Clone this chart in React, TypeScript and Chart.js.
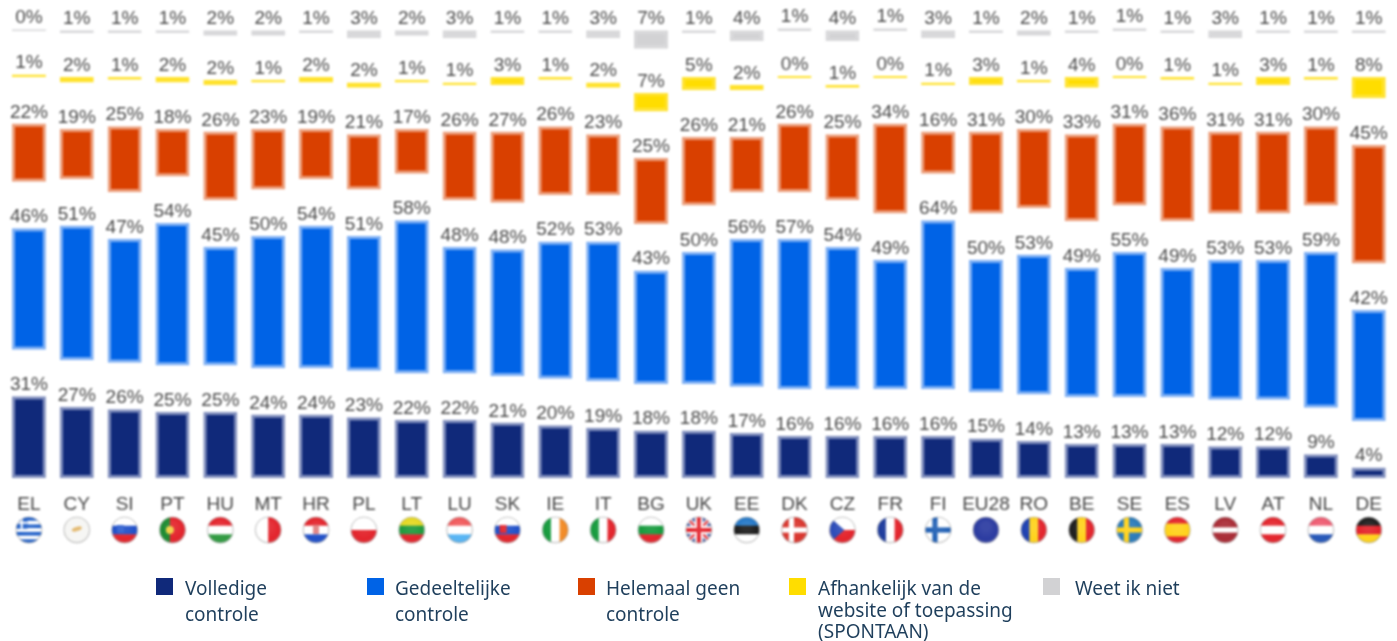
import React, { useEffect, useRef } from "react";
import { Chart, registerables } from "chart.js";

Chart.register(...registerables);

const categories = ["EL","CY","SI","PT","HU","MT","HR","PL","LT","LU","SK","IE","IT","BG","UK","EE","DK","CZ","FR","FI","EU28","RO","BE","SE","ES","LV","AT","NL","DE"];
const volledige = [31,27,26,25,25,24,24,23,22,22,21,20,19,18,18,17,16,16,16,16,15,14,13,13,13,12,12,9,4];
const gedeeltelijke = [46,51,47,54,45,50,54,51,58,48,48,52,53,43,50,56,57,54,49,64,50,53,49,55,49,53,53,59,42];
const geen = [22,19,25,18,26,23,19,21,17,26,27,26,23,25,26,21,26,25,34,16,31,30,33,31,36,31,31,30,45];
const afhankelijk = [1,2,1,2,2,1,2,2,1,1,3,1,2,7,5,2,0,1,0,1,3,1,4,0,1,1,3,1,8];
const weetNiet = [0,1,1,1,2,2,1,3,2,3,1,1,3,7,1,4,1,4,1,3,1,2,1,1,1,3,1,1,1];

const seriesNames = ["Volledige controle","Gedeeltelijke controle","Helemaal geen controle","Afhankelijk van de website of toepassing (SPONTAAN)","Weet ik niet"];
const seriesColors = ["#10297a","#0063e6","#d94000","#ffdd00","#d2d2d4"];
const seriesHalo = ["#8290be","#7fb0f4","#ec9f7c","#ffe22e","#d8d8da"];
const seriesValues = [volledige, gedeeltelijke, geen, afhankelijk, weetNiet];
// The reference separates the five panels with a constant blank band, in percent units.
const bandAfter = [17.6, 17.6, 17.6, 16.7];

const legendLines = [
  ["Volledige","controle"],
  ["Gedeeltelijke","controle"],
  ["Helemaal geen","controle"],
  ["Afhankelijk van de","website of toepassing","(SPONTAAN)"],
  ["Weet ik niet"],
];
const legendSwatchX = [156,367,578,789,1043];
const legendTextX = [185,395,606,818,1075];
const legendLineTops = [[576,602],[576,602],[576,602],[576,598,619],[576]];

type Flag = { h?: string[]; v?: string[]; w?: number[]; cross?: [string,string]; extra?: string };
const R="#e3232b", W="#ffffff", B="#1f4fb4", G="#159a3c", Y="#ffd21a", K="#1c1c1c";
const flags: Record<string, Flag> = {
  EL:{h:["#1f5fc8",W,"#1f5fc8",W,"#1f5fc8",W,"#1f5fc8"],extra:"gr"},
  CY:{h:["#f6f6f4"],extra:"cy"},
  SI:{h:[W,"#1f4fc8",R],extra:"crest"},
  PT:{v:["#1c8a30",R],w:[2,3],extra:"pt"},
  HU:{h:[R,W,"#2f9a40"]},
  MT:{v:[W,R]},
  HR:{h:[R,W,"#1f4fc8"],extra:"crest"},
  PL:{h:[W,R]},
  LT:{h:["#e6d820","#1f9a3c",R]},
  LU:{h:["#f0585a",W,"#55b4f4"]},
  SK:{h:[W,"#1f4fc8",R],extra:"crest"},
  IE:{v:[G,W,"#f28a24"]},
  IT:{v:[G,W,R]},
  BG:{h:[W,G,R]},
  UK:{h:["#2a3f8f"],extra:"uk"},
  EE:{h:["#2478c8",K,W]},
  DK:{h:["#d9342c"],cross:[W,W]},
  CZ:{h:[W,R],extra:"cz"},
  FR:{v:["#1c3a9c",W,R]},
  FI:{h:[W],cross:["#1f5fb4","#1f5fb4"]},
  EU28:{h:["#2a3aa0"]},
  RO:{v:["#1c3fb0",Y,R]},
  BE:{v:[K,Y,R]},
  SE:{h:["#2a7ab8"],cross:[Y,Y]},
  ES:{h:[R,Y,R],w:[1,2,1]},
  LV:{h:["#a82a34",W,"#a82a34"],w:[2,1,2]},
  AT:{h:[R,W,R]},
  NL:{h:["#ee5a70",W,"#2456b8"]},
  DE:{h:[K,R,Y]},
};

function drawFlag(ctx: CanvasRenderingContext2D, code: string, cx: number, cy: number, r: number) {
  const f = flags[code];
  ctx.save();
  ctx.beginPath();
  ctx.arc(cx, cy, r, 0, Math.PI * 2);
  ctx.clip();
  const x0 = cx - r, y0 = cy - r, d = 2 * r;
  const cols = f.h || f.v || [W];
  const ws = f.w || cols.map(() => 1);
  const sum = ws.reduce((a, b) => a + b, 0);
  let p = 0;
  cols.forEach((c, i) => {
    ctx.fillStyle = c;
    const s = (ws[i] / sum) * d;
    if (f.v) ctx.fillRect(x0 + p, y0, s + 0.5, d);
    else ctx.fillRect(x0, y0 + p, d, s + 0.5);
    p += s;
  });
  if (f.cross) {
    ctx.fillStyle = f.cross[0];
    ctx.fillRect(x0, cy - d * 0.1, d, d * 0.2);
    ctx.fillRect(cx - d * 0.22, y0, d * 0.2, d);
  }
  if (f.extra === "gr") {
    ctx.fillStyle = "#1f5fc8";
    ctx.fillRect(x0, y0, d * 0.45, d * 0.45);
    ctx.fillStyle = W;
    ctx.fillRect(x0, y0 + d * 0.18, d * 0.45, d * 0.08);
    ctx.fillRect(x0 + d * 0.18, y0, d * 0.08, d * 0.45);
  } else if (f.extra === "cy") {
    ctx.fillStyle = "#e2b567";
    ctx.beginPath();
    ctx.ellipse(cx, cy - 1, d * 0.2, d * 0.08, -0.3, 0, Math.PI * 2);
    ctx.fill();
  } else if (f.extra === "crest") {
    ctx.fillStyle = code === "HR" ? "#e08080" : code === "SK" ? R : "#3060d0";
    if (code === "HR") ctx.fillRect(cx - 3, cy - 5, 6, 9);
    else ctx.fillRect(cx - d * 0.3, cy - 5, 7, 8);
  } else if (f.extra === "pt") {
    ctx.fillStyle = "#f0d040";
    ctx.beginPath();
    ctx.arc(x0 + d * 0.4, cy, 4, 0, Math.PI * 2);
    ctx.fill();
  } else if (f.extra === "uk") {
    ctx.lineWidth = 5; ctx.strokeStyle = W;
    ctx.beginPath(); ctx.moveTo(x0, y0); ctx.lineTo(x0 + d, y0 + d); ctx.moveTo(x0 + d, y0); ctx.lineTo(x0, y0 + d); ctx.stroke();
    ctx.lineWidth = 2; ctx.strokeStyle = R; ctx.stroke();
    ctx.fillStyle = W; ctx.fillRect(x0, cy - 4, d, 8); ctx.fillRect(cx - 4, y0, 8, d);
    ctx.fillStyle = R; ctx.fillRect(x0, cy - 2, d, 4); ctx.fillRect(cx - 2, y0, 4, d);
  } else if (f.extra === "cz") {
    ctx.fillStyle = "#2a4ab8";
    ctx.beginPath(); ctx.moveTo(x0, y0); ctx.lineTo(cx + 2, cy); ctx.lineTo(x0, y0 + d); ctx.closePath(); ctx.fill();
  }
  const gloss = ctx.createRadialGradient(cx, cy - r * 0.3, r * 0.3, cx, cy, r);
  gloss.addColorStop(0, "rgba(255,255,255,0.08)");
  gloss.addColorStop(0.8, "rgba(255,255,255,0)");
  gloss.addColorStop(1, "rgba(90,90,90,0.3)");
  ctx.fillStyle = gloss;
  ctx.fillRect(x0, y0, d, d);
  ctx.restore();
  ctx.beginPath();
  ctx.arc(cx, cy, r, 0, Math.PI * 2);
  ctx.strokeStyle = "rgba(170,170,170,0.55)";
  ctx.lineWidth = 1;
  ctx.stroke();
}

const valueLabelsAndFlags = {
  id: "valueLabelsAndFlags",
  afterDatasetsDraw(chart: any) {
    const { ctx } = chart;
    ctx.save();
    ctx.font = '19px "Liberation Sans"';
    ctx.fillStyle = "#4a4a4a";
    ctx.textAlign = "center";
    ctx.textBaseline = "alphabetic";
    chart.data.datasets.forEach((ds: any, di: number) => {
      if (ds.isBand) return;
      chart.getDatasetMeta(di).data.forEach((bar: any, i: number) => {
        ctx.fillText(`${ds.data[i]}%`, bar.x, bar.y - 6);
      });
    });
    const xs = chart.scales.x;
    categories.forEach((c, i) => drawFlag(ctx, c, xs.getPixelForValue(i), 530, 13));
    ctx.restore();
  },
};

export default function App() {
  const ref = useRef<HTMLCanvasElement>(null);
  useEffect(() => {
    const datasets: any[] = [];
    seriesValues.forEach((vals, s) => {
      datasets.push({
        label: seriesNames[s],
        data: vals,
        backgroundColor: seriesColors[s],
        borderColor: seriesHalo[s],
        borderWidth: 3,
        borderSkipped: false,
        minBarLength: s >= 3 ? 2 : 0,
        barPercentage: 0.71,
        categoryPercentage: 1,
      });
      if (s < bandAfter.length) {
        datasets.push({
          isBand: true,
          label: "",
          data: vals.map(() => bandAfter[s]),
          backgroundColor: "rgba(0,0,0,0)",
          borderWidth: 0,
          barPercentage: 0.71,
          categoryPercentage: 1,
        });
      }
    });
    const chart = new Chart(ref.current as HTMLCanvasElement, {
      type: "bar",
      data: { labels: categories, datasets },
      plugins: [valueLabelsAndFlags],
      options: {
        responsive: false,
        animation: false,
        layout: { padding: { left: 5, right: 3, top: 0, bottom: 0 } },
        plugins: { legend: { display: false }, tooltip: { enabled: false }, title: { display: false } },
        scales: {
          x: {
            stacked: true,
            grid: { display: false, drawTicks: false },
            border: { display: false },
            afterFit: (scale: any) => { scale.height = 163; },
            ticks: {
              autoSkip: false, minRotation: 0, maxRotation: 0, padding: 15,
              color: "#444444",
              font: { family: '"Liberation Sans"', size: 19 },
            },
          },
          y: { stacked: true, display: false, min: 0, max: 181 },
        },
      },
    } as any);
    return () => chart.destroy();
  }, []);

  return (
    <div style={{ position: "fixed", left: 0, top: 0, width: 1397, height: 641, background: "#fff", overflow: "hidden" }}>
      <canvas ref={ref} width={1397} height={641} style={{ display: "block", filter: "blur(0.8px)" }} />
      {seriesNames.map((_, s) => (
        <React.Fragment key={s}>
          <div style={{ position: "absolute", left: legendSwatchX[s], top: 578, width: 17, height: 17, background: seriesColors[s] }} />
          {legendLines[s].map((line, l) => (
            <div key={l} style={{ position: "absolute", left: legendTextX[s], top: legendLineTops[s][l], whiteSpace: "nowrap", font: '19px/24px "Noto Sans"', color: "#1f3f5c" }}>{line}</div>
          ))}
        </React.Fragment>
      ))}
    </div>
  );
}
